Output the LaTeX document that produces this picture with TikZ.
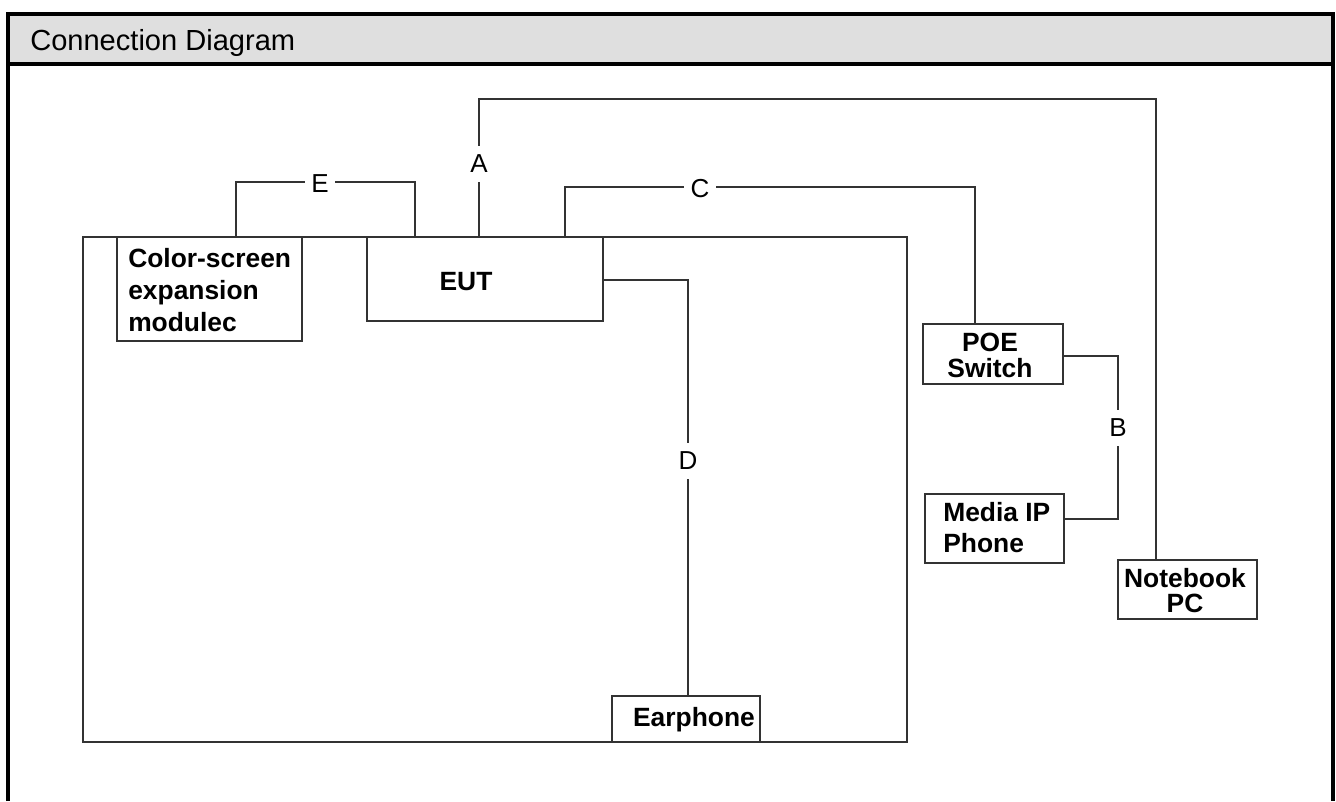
\documentclass[tikz,border=0pt]{standalone}
\usepackage{fontspec}
\setmainfont{Liberation Sans}
\definecolor{headgray}{HTML}{DFDFDF}
\definecolor{wiregray}{HTML}{333333}
\begin{document}
\begin{tikzpicture}[x=0.75pt,y=-0.75pt,
  wire/.style={draw=wiregray, line width=1.1pt},
  box/.style={draw=wiregray, line width=1.1pt, fill=white, inner sep=0pt},
  lbl/.style={font=\fontsize{19.8}{24}\selectfont\bfseries, inner sep=0pt, align=left},
  lblc/.style={font=\fontsize{19.8}{19}\selectfont\bfseries, inner sep=0pt, align=center},
  tag/.style={fill=white, font=\fontsize{19.5}{23}\selectfont, inner xsep=5pt, inner ysep=7pt},
  frame/.style={line width=3pt, draw=black}]
\useasboundingbox (0,0) rectangle (1336,801);
% header and frame
\fill[headgray] (8,14) rectangle (1333,64);
\draw[frame] (8,801) -- (8,14) -- (1333,14) -- (1333,801);
\draw[frame] (8,64) -- (1333,64);
\node[anchor=base west, inner sep=0pt, font=\fontsize{21.8}{24}\selectfont] (title) at (30,50) {Connection Diagram};
% room box
\node[box, fill=none, minimum width=618pt, minimum height=378.75pt] (room) at (495,489.5) {};
% device boxes
\node[box, minimum width=138.75pt, minimum height=78pt] (color) at (209.5,289) {};
\node[box, minimum width=177pt, minimum height=63pt] (eut) at (485,279) {};
\node[box, minimum width=105pt, minimum height=45pt] (poe) at (993,354) {};
\node[box, minimum width=104.25pt, minimum height=51.75pt] (media) at (994.5,528.5) {};
\node[box, minimum width=104.25pt, minimum height=44.25pt] (nb) at (1187.5,589.5) {};
\node[box, minimum width=111pt, minimum height=34.5pt] (earph) at (686,719) {};
% wires
\draw[wire] (236,0 |- color.north) |- (415,182) -- (415,0 |- eut.north);
\draw[wire] (479,0 |- eut.north) |- (1156,99) -- (1156,0 |- nb.north);
\draw[wire] (565,0 |- eut.north) |- (975,187) -- (975,0 |- poe.north);
\draw[wire] (eut.east |- 0,280) -| (688,0 |- earph.north);
\draw[wire] (poe.east |- 0,356) -| (1118,519) -- (media.east |- 0,519);
% texts
\node[lbl, anchor=west] (colorT) at (128,290) {Color-screen\\expansion\\modulec};
\node[lbl] (eutT) at (466,282) {EUT};
\node[lblc] (poeT) at (990,355.5) {POE\\Switch};
\node[lbl, font=\fontsize{19.8}{23}\selectfont\bfseries, anchor=west] (mediaT) at (943,527.5) {Media IP\\Phone};
\node[lblc] (nbT) at (1185,590.5) {Notebook\\PC};
\node[lbl] (earT) at (694,720) {Earphone};
% line tags
\node[tag] (tagE) at (320,184) {E};
\node[tag] (tagA) at (479,164) {A};
\node[tag] (tagC) at (700,189) {C};
\node[tag] (tagD) at (688,461) {D};
\node[tag] (tagB) at (1118,428) {B};
\end{tikzpicture}
\end{document}
